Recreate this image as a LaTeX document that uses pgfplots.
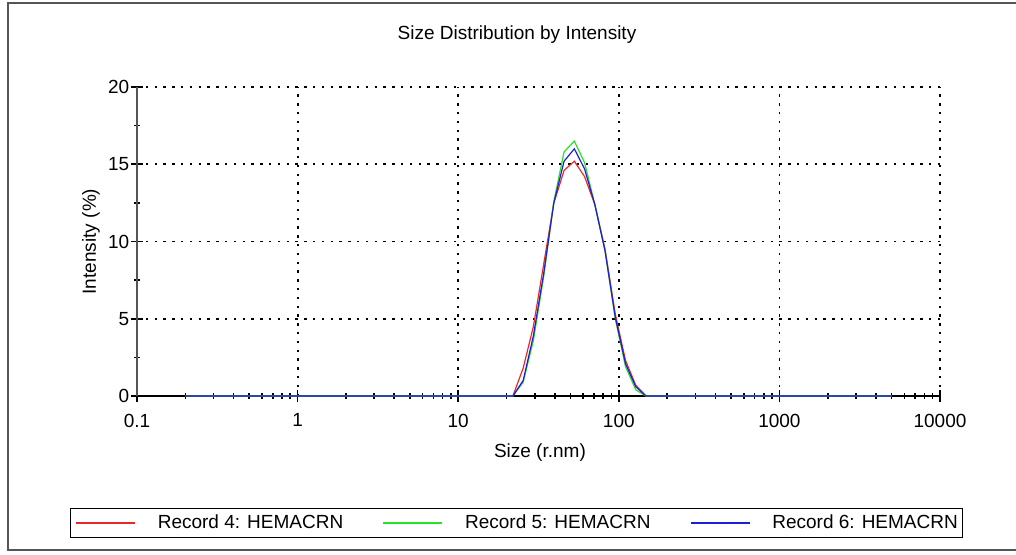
\documentclass[border=0pt]{standalone}
\usepackage{fontspec}
\setmainfont{Liberation Sans}
\usepackage{pgfplots}
\usepackage{pgfplotstable}
\pgfplotsset{compat=1.18}

% size (radius, nm) vs intensity (%) for the three records
\pgfplotstableread{
size   r4    r5    r6
0.2    0     0     0
21.91  0     0     0
25.38  1.8   0.9   1.0
29.39  4.5   3.6   3.9
34.03  8.5   7.7   7.9
39.41  12.5  12.6  12.5
45.64  14.6  15.8  15.2
52.86  15.2  16.5  16.0
61.21  14.2  15.1  14.7
70.89  12.4  12.4  12.4
82.10  9.5   9.4   9.4
95.08  5.3   5.0   5.1
110.1  2.3   1.9   2.1
127.5  0.7   0.4   0.6
147.7  0     0     0
5000   0     0     0
}\sizedata

\definecolor{rec4}{RGB}{235,40,40}
\definecolor{rec5}{RGB}{40,225,40}
\definecolor{rec6}{RGB}{30,30,215}
\definecolor{framegray}{RGB}{85,85,85}

\begin{document}
\fontsize{9.5}{11.4}\selectfont
\begin{tikzpicture}
\useasboundingbox (-68.5pt,-79pt) rectangle (439.5pt,198pt);
\draw[framegray, line width=0.9pt] (441pt,196.5pt) -- (-64.5pt,196.5pt) -- (-64.5pt,-77pt) -- (441pt,-77pt);
\begin{axis}[
  at={(0pt,0pt)}, anchor=south west,
  scale only axis,
  width=401.5pt, height=154.5pt,
  xmode=log,
  xmin=0.1, xmax=10000,
  ymin=0, ymax=20,
  enlargelimits=false,
  clip=false,
  axis x line=bottom,
  axis y line=left,
  axis line style={-, line width=0.9pt},
  y axis line style={framegray},
  xtick={0.1,1,10,100,1000,10000},
  xticklabels={0.1,1,10,100,1000,10000},
  ytick={0,5,10,15,20},
  minor y tick num=1,
  tick align=center,
  major tick length=6pt,
  minor tick length=3pt,
  tick style={black, line width=0.8pt},
  grid=major,
  major grid style={black, line width=0.9pt, dash pattern=on 1.2pt off 3.2pt},
  /pgf/number format/assume math mode=true,
  xticklabel style={yshift=-2.5pt},
  yticklabel style={xshift=2.5pt},
  title={Size Distribution by Intensity},
  title style={at={(axis description cs:0.4732,1.13)}, anchor=center, yshift=0pt},
  xlabel={Size (r.nm)},
  xlabel style={at={(axis description cs:0.5018,-0.1845)}, anchor=center, yshift=0pt},
  ylabel={Intensity (\%)},
  ylabel style={at={(axis description cs:-0.0573,0.5)}, anchor=center},
  legend columns=3,
  legend image code/.code={\draw[#1] (0pt,0pt) -- (29.5pt,0pt);},
  legend style={
    at={(axis description cs:-0.0834,-0.3625)}, anchor=north west,
    draw=black, line width=0.6pt,
    inner xsep=2.5pt, inner ysep=3pt,
    nodes={inner sep=0pt, anchor=west},
    /tikz/every odd column/.append style={column sep=11pt},
    /tikz/every even column/.append style={column sep=19.8pt},
  },
]
\addplot[rec4, line width=0.6pt] table[x=size, y=r4] {\sizedata};
\addlegendentry{Record 4: HEMACRN}
\addplot[rec5, line width=0.6pt] table[x=size, y=r5] {\sizedata};
\addlegendentry{Record 5: HEMACRN}
\addplot[rec6, line width=0.6pt] table[x=size, y=r6] {\sizedata};
\addlegendentry{Record 6: HEMACRN}
\end{axis}
\end{tikzpicture}
\end{document}
